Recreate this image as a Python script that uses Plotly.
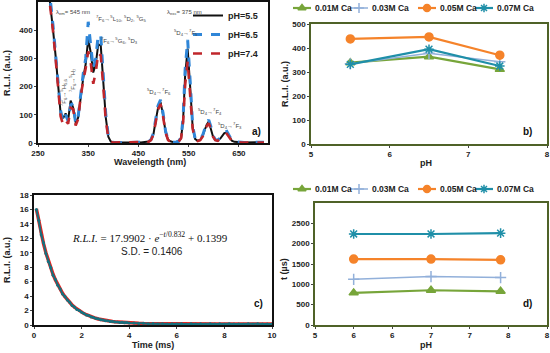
import plotly.graph_objects as go

# ---------------- Panel a: excitation / emission spectra ----------------
wavelength = [270, 275, 280, 285, 290, 295, 300, 305, 310, 315,
              320, 325, 330, 335, 340, 345, 350, 355, 360, 365,
              370, 375, 380, 385, 390, 395, 400, 405, 410, 415,
              420, 425, 430, 435, 440, 445, 450, 455, 460, 465,
              470, 475, 480, 484, 489, 494, 499, 504, 509, 515,
              520, 525, 530, 535, 539, 543, 548, 553, 558, 563,
              568, 573, 578, 582, 586, 590, 594, 598, 603, 608,
              613, 617, 621, 626, 631, 636, 641, 645, 650, 655,
              660, 665, 670, 675, 680, 685, 690, 695, 700]
ph55 = [560, 490, 400, 310, 205, 105, 88, 105, 80, 150,
        125, 72, 90, 170, 230, 280, 370, 320, 250, 280,
        350, 345, 225, 90, 22, 5, 3, 2, 3, 2,
        2, 3, 2, 2, 3, 2, 3, 2, 3, 3,
        5, 11, 32, 76, 124, 145, 100, 39, 11, 5,
        3, 4, 6, 18, 82, 240, 335, 200, 55, 14,
        8, 11, 26, 46, 65, 76, 55, 26, 11, 9,
        16, 28, 35, 37, 23, 8, 4, 3, 2, 3,
        2, 2, 3, 2, 2, 3, 2, 2, 3]
ph65 = [560, 500, 415, 320, 215, 115, 75, 100, 78, 135,
        140, 70, 95, 180, 245, 300, 430, 345, 265, 300,
        385, 380, 240, 100, 25, 6, 3, 2, 3, 2,
        2, 3, 2, 2, 3, 2, 3, 2, 3, 4,
        5, 12, 35, 80, 132, 153, 106, 42, 12, 5,
        3, 4, 6, 20, 90, 260, 366, 220, 60, 15,
        9, 12, 28, 50, 71, 82, 60, 28, 12, 10,
        18, 30, 38, 41, 25, 9, 4, 3, 2, 3,
        2, 2, 3, 2, 2, 3, 2, 2, 3]
ph74 = [550, 480, 395, 300, 195, 95, 65, 80, 68, 125,
        120, 62, 85, 165, 220, 265, 325, 285, 210, 250,
        320, 310, 200, 80, 18, 4, 2, 2, 2, 2,
        2, 2, 2, 2, 2, 2, 2, 2, 2, 3,
        4, 10, 30, 70, 118, 138, 95, 37, 10, 4,
        3, 3, 5, 17, 75, 205, 290, 180, 50, 13,
        7, 10, 23, 42, 60, 70, 51, 24, 10, 8,
        14, 24, 30, 33, 20, 7, 3, 2, 2, 2,
        2, 2, 2, 2, 2, 2, 2, 2, 2]

# ---------------- Panels b & d: vs pH ----------------
ph_vals = [5.5, 6.5, 7.4]
series_names = ["0.01M Ca", "0.03M Ca", "0.05M Ca", "0.07M Ca"]
rli_b = {
    "0.01M Ca": [339, 364, 311],
    "0.03M Ca": [334, 378, 343],
    "0.05M Ca": [438, 446, 370],
    "0.07M Ca": [332, 395, 325],
}
tau_d = {
    "0.01M Ca": [790, 855, 828],
    "0.03M Ca": [1122, 1192, 1167],
    "0.05M Ca": [1622, 1622, 1603],
    "0.07M Ca": [2238, 2238, 2258],
}
d_tickvals = [5, 5.5, 6, 6.5, 7, 7.5, 8]
d_ticktext = ["5", "6", "6", "7", "7", "8", "8"]

# ---------------- Panel c: decay ----------------
time_ms = [0.1, 0.2, 0.3, 0.4, 0.5, 0.6, 0.7, 0.8, 0.9, 1.0,
           1.1, 1.2, 1.3, 1.4, 1.5, 1.6, 1.7, 1.8, 1.9, 2.0,
           2.1, 2.2, 2.3, 2.4, 2.5, 2.6, 2.7, 2.8, 2.9, 3.0,
           3.1, 3.2, 3.3, 3.4, 3.5, 3.6, 3.7, 3.8, 3.9, 4.0,
           4.2, 4.4, 4.6, 4.8, 5.0, 5.2, 5.4, 5.6, 5.8, 6.0,
           6.2, 6.4, 6.6, 6.8, 7.0, 7.2, 7.4, 7.6, 7.8, 8.0,
           8.2, 8.4, 8.6, 8.8, 9.0, 9.2, 9.4, 9.6, 9.8, 10.0]
decay_data = [16.0, 14.5, 12.5, 11.4, 9.9, 8.8, 8.0, 6.9, 6.3, 5.5,
              5.0, 4.3, 3.95, 3.45, 3.15, 2.7, 2.5, 2.15, 2.0, 1.75,
              1.6, 1.38, 1.3, 1.12, 1.05, 0.9, 0.86, 0.72, 0.7, 0.6,
              0.58, 0.5, 0.49, 0.42, 0.43, 0.36, 0.37, 0.31, 0.33, 0.27,
              0.28, 0.21, 0.24, 0.18, 0.21, 0.15, 0.19, 0.14, 0.18, 0.13,
              0.17, 0.12, 0.18, 0.13, 0.16, 0.12, 0.17, 0.13, 0.16, 0.11,
              0.17, 0.13, 0.15, 0.12, 0.17, 0.12, 0.16, 0.13, 0.15, 0.14]
decay_fit = [16.09, 14.29, 12.68, 11.26, 10.00, 8.89, 7.90, 7.02, 6.24, 5.55,
             4.94, 4.39, 3.91, 3.48, 3.10, 2.77, 2.47, 2.21, 1.97, 1.77,
             1.58, 1.42, 1.27, 1.15, 1.03, 0.93, 0.84, 0.76, 0.69, 0.63,
             0.57, 0.52, 0.48, 0.44, 0.41, 0.38, 0.35, 0.33, 0.31, 0.29,
             0.26, 0.23, 0.21, 0.20, 0.18, 0.17, 0.17, 0.16, 0.16, 0.15,
             0.15, 0.15, 0.15, 0.15, 0.14, 0.14, 0.14, 0.14, 0.14, 0.14,
             0.14, 0.14, 0.14, 0.14, 0.14, 0.14, 0.14, 0.14, 0.14, 0.14]

W, H = 550, 353
FONT = "Liberation Sans, Arial, sans-serif"


def px(x, y):
    return x / W, 1 - y / H


fig = go.Figure()

# spectra
fig.add_trace(go.Scatter(x=wavelength, y=ph55, mode="lines", name="pH=5.5",
                         line=dict(color="#111111", width=2),
                         xaxis="x", yaxis="y", legendrank=1))
fig.add_trace(go.Scatter(x=wavelength, y=ph65, mode="lines", name="pH=6.5",
                         line=dict(color="#2f86d8", width=3, dash="dash"),
                         xaxis="x", yaxis="y", legendrank=2))
fig.add_trace(go.Scatter(x=wavelength, y=ph74, mode="lines", name="pH=7.4",
                         line=dict(color="#c0262b", width=2.6, dash="dash"),
                         xaxis="x", yaxis="y", legendrank=3))

styles = {
    "0.01M Ca": dict(color="#77a53a", symbol="triangle-up", size=8, lw=2.2),
    "0.03M Ca": dict(color="#92b0da", symbol="cross-thin", size=8, lw=1.5),
    "0.05M Ca": dict(color="#f5832a", symbol="circle", size=8, lw=2.2),
    "0.07M Ca": dict(color="#1f8fa8", symbol="asterisk", size=8, lw=2.2),
}


def marker_of(name, size=None):
    st = styles[name]
    return dict(color=st["color"], symbol=st["symbol"], size=size or st["size"],
                line=dict(color=st["color"], width=1.5))


for name in series_names:
    st = styles[name]
    fig.add_trace(go.Scatter(x=ph_vals, y=rli_b[name], mode="lines+markers", name=name,
                             line=dict(color=st["color"], width=st["lw"]), marker=marker_of(name),
                             xaxis="x2", yaxis="y2", showlegend=False))
    fig.add_trace(go.Scatter(x=ph_vals, y=tau_d[name], mode="lines+markers", name=name,
                             line=dict(color=st["color"], width=st["lw"]), marker=marker_of(name),
                             xaxis="x4", yaxis="y4", showlegend=False))

# decay
fig.add_trace(go.Scatter(x=time_ms, y=decay_fit, mode="lines", showlegend=False,
                         line=dict(color="#e8231f", width=3.5),
                         xaxis="x3", yaxis="y3"))
fig.add_trace(go.Scatter(x=time_ms, y=decay_data, mode="lines+markers", showlegend=False,
                         line=dict(color="#16707e", width=2),
                         marker=dict(color="#16707e", size=3),
                         xaxis="x3", yaxis="y3"))

# legend keys for panels b and d (drawn on an invisible full-page overlay axis)
legend_item_x = [293, 350, 418, 475]
legend_rows_y = [8, 189]
ann = []


def add(text, x, y, size=6, color="#444444", bold=False, angle=0, family=FONT, xanchor="center"):
    xx, yy = px(x, y)
    ann.append(dict(text=("<b>%s</b>" % text) if bold else text, x=xx, y=yy, xref="paper", yref="paper",
                    showarrow=False, textangle=angle, xanchor=xanchor, yanchor="middle",
                    font=dict(family=family, size=size, color=color)))


for ly in legend_rows_y:
    for name, lx in zip(series_names, legend_item_x):
        st = styles[name]
        fig.add_trace(go.Scatter(x=[lx, lx + 18], y=[ly, ly], mode="lines", showlegend=False,
                                 hoverinfo="skip", line=dict(color=st["color"], width=st["lw"]),
                                 xaxis="x5", yaxis="y5"))
        fig.add_trace(go.Scatter(x=[lx + 9], y=[ly], mode="markers", showlegend=False,
                                 hoverinfo="skip", marker=marker_of(name, 7),
                                 xaxis="x5", yaxis="y5"))
        add(name, lx + 20, ly, size=8.5, color="#222222", bold=True, xanchor="left")

tickfont = dict(family=FONT, size=8, color="#222222", weight="bold")
black_frame = dict(showline=True, linecolor="#111111", linewidth=1.5, mirror=True,
                   ticks="outside", ticklen=2, tickcolor="#444444", showgrid=False,
                   zeroline=False, tickfont=tickfont, automargin=False)
olive_frame = dict(showline=True, linecolor="#4f6228", linewidth=1.5, mirror=True,
                   ticks="outside", ticklen=2, tickcolor="#444444", showgrid=False,
                   zeroline=False, tickfont=tickfont, automargin=False)

fig.update_layout(
    width=W, height=H, margin=dict(l=0, r=0, t=0, b=0, autoexpand=False),
    paper_bgcolor="white", plot_bgcolor="rgba(0,0,0,0)",
    font=dict(family=FONT, color="#222222"),
    xaxis=dict(domain=[38 / W, 268 / W], range=[250, 708], tickvals=[250, 350, 450, 550, 650],
               anchor="y", **black_frame),
    yaxis=dict(domain=[1 - 143 / H, 1 - 2 / H], range=[0, 500], tickvals=[0, 100, 200, 300, 400],
               anchor="x", **black_frame),
    xaxis2=dict(domain=[311 / W, 547 / W], range=[5, 8], dtick=1, anchor="y2", **olive_frame),
    yaxis2=dict(domain=[1 - 144 / H, 1 - 24 / H], range=[0, 500], dtick=100, anchor="x2", **olive_frame),
    xaxis3=dict(domain=[34 / W, 272 / W], range=[0, 10], dtick=2, anchor="y3", **black_frame),
    yaxis3=dict(domain=[1 - 325 / H, 1 - 195 / H], range=[0, 18], dtick=2, anchor="x3", **black_frame),
    xaxis4=dict(domain=[315 / W, 547 / W], range=[5, 8], tickvals=d_tickvals, ticktext=d_ticktext,
                anchor="y4", **olive_frame),
    yaxis4=dict(domain=[1 - 325 / H, 1 - 203 / H], range=[0, 3000],
                tickvals=[0, 500, 1000, 1500, 2000, 2500], anchor="x4", **olive_frame),
    xaxis5=dict(domain=[0, 1], range=[0, W], visible=False, anchor="y5", fixedrange=True),
    yaxis5=dict(domain=[0, 1], range=[H, 0], visible=False, anchor="x5", fixedrange=True),
    legend=dict(orientation="v", x=px(188, 0)[0], y=px(0, 1)[1], xanchor="left", yanchor="top",
                font=dict(family=FONT, size=9, color="#222222", weight="bold"),
                bgcolor="rgba(0,0,0,0)", itemwidth=30, tracegroupgap=0),
)

# panel a labels
add("λ<sub>em</sub>= 545 nm", 73, 12, size=6)
add("λ<sub>exc</sub>= 375 nm", 184, 13, size=6)
add("<sup>7</sup>F<sub>6</sub>→<sup>5</sup>L<sub>10</sub>, <sup>5</sup>D<sub>2</sub>, <sup>5</sup>G<sub>5</sub>", 121, 19, size=6)
add("<sup>7</sup>F<sub>6</sub>→<sup>5</sup>G<sub>6</sub>, <sup>5</sup>D<sub>3</sub>", 119, 40, size=6)
add("<sup>5</sup>D<sub>4</sub>→<sup>7</sup>F<sub>5</sub>", 186, 33, size=6)
add("<sup>5</sup>D<sub>4</sub>→<sup>7</sup>F<sub>6</sub>", 159, 91, size=6)
add("<sup>5</sup>D<sub>4</sub>→<sup>7</sup>F<sub>4</sub>", 210, 111, size=6)
add("<sup>5</sup>D<sub>4</sub>→<sup>7</sup>F<sub>3</sub>", 230, 126, size=6)
add("<sup>7</sup>F<sub>6</sub>→<sup>5</sup>H<sub>5,6</sub>", 64, 92, size=6, angle=-90)
add("<sup>7</sup>F<sub>6</sub>→<sup>5</sup>H<sub>7</sub>", 72, 80, size=6, angle=-90)
add("a)", 256, 132, size=10, color="#111111", bold=True)
add("b)", 527, 131, size=10, color="#111111", bold=True)
add("c)", 258, 303, size=10, color="#111111", bold=True)
add("d)", 527, 303, size=10, color="#111111", bold=True)

# axis titles
add("Wavelength (nm)", 150, 162, size=9, color="#222222", bold=True)
add("R.L.I. (a.u.)", 7, 73, size=9, color="#222222", bold=True, angle=-90)
add("pH", 426, 163, size=9, color="#222222", bold=True)
add("R.L.I. (a.u.)", 285, 84, size=9, color="#222222", bold=True, angle=-90)
add("Time (ms)", 153, 345, size=9, color="#222222", bold=True)
add("R.L.I. (a.u.)", 7, 260, size=9, color="#222222", bold=True, angle=-90)
add("pH", 426, 345, size=9, color="#222222", bold=True)
add("t (µs)", 284, 269, size=9, color="#222222", bold=True, angle=-90)

# equation in panel c
add("<i>R.L.I.</i> = 17.9902 · <i>e</i><sup>−<i>t</i>/0.832</sup> + 0.1399", 150, 237, size=11,
    color="#111111", family="Liberation Serif, DejaVu Serif, serif")
add("S.D. = 0.1406", 152, 251, size=10, color="#222222")

fig.update_layout(annotations=ann)

fig.write_html("out.html", config={"displayModeBar": False},
               post_script="document.body.style.margin='0';document.body.style.overflow='hidden';")
